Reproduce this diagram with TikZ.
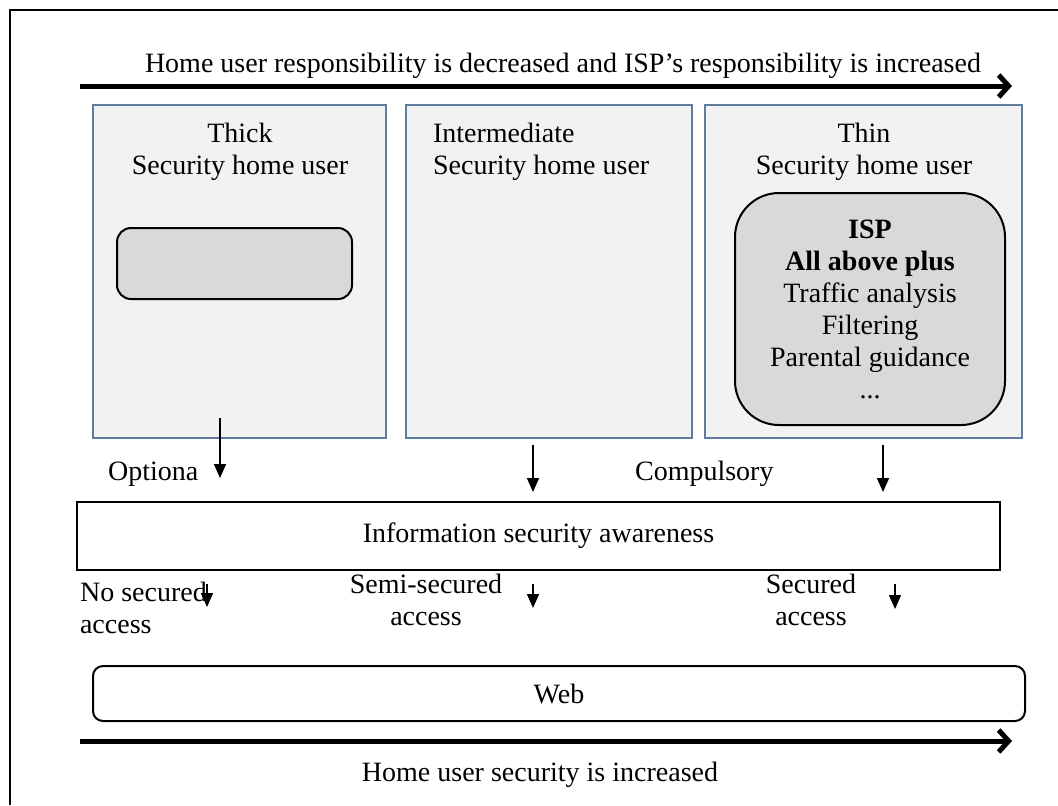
\documentclass[tikz,border=0pt]{standalone}
\usepackage{fontspec}
\setmainfont{Liberation Serif}
\usetikzlibrary{arrows.meta}

\definecolor{panelline}{RGB}{96,124,160}
\definecolor{panelfill}{RGB}{242,242,242}
\definecolor{boxfill}{RGB}{217,217,217}

\tikzset{
  panel/.style={draw=panelline, fill=panelfill, line width=0.6pt, inner sep=0pt},
  greybox/.style={draw, fill=boxfill, line width=1pt, align=center},
  bar/.style={draw, line width=1pt, fill=white, inner sep=0pt},
  bigarrow/.style={line width=2.5pt, -{Straight Barb[length=5pt,width=11pt]}},
  smallarrow/.style={line width=0.8pt, -{Triangle[length=7pt,width=6pt]}},
  lbl/.style={font=\fontsize{14}{16}\selectfont}
}

\begin{document}
\begin{tikzpicture}[x=0.5pt, y=-0.5pt, lbl]

        \useasboundingbox (0,0) rectangle (1058,805);

        % Outer frame (cut off at right and bottom)
        \draw[line width=1pt] (10,805) -- (10,10) -- (1058,10);

        % Top heading and arrow
        \node[anchor=base] (toptext) at (563,72)
          {Home user responsibility is decreased and ISP’s responsibility is increased};
        \coordinate (topstart) at (80,86);
        \coordinate (topend) at (1012,86);
        \draw[bigarrow] (topstart) -- (topend);

        % Three security panels
        \node[panel, minimum width=146.5pt, minimum height=166.5pt] (thick) at (239.5,271.5) {};
        \node[panel, minimum width=143pt, minimum height=166.5pt] (inter) at (549,271.5) {};
        \node[panel, minimum width=158.5pt, minimum height=166.5pt] (thin) at (863.5,271.5) {};

        \node[align=center] (thicktitle) at (240,152) {Thick\\Security home user};
        \node[align=left, anchor=west] (intertitle) at (426,152) {Intermediate\\Security home user};
        \node[align=center] (thintitle) at (864,152) {Thin\\Security home user};

        % Grey boxes inside the panels
        \node[greybox, rounded corners=7pt, minimum width=117.5pt, minimum height=35.5pt] (thickbox) at (234.5,263.5) {};
        \node[greybox, rounded corners=22pt, minimum width=135pt, minimum height=116pt] (ispbox) at (870,309)
          {\textbf{ISP}\\\textbf{All above plus}\\Traffic analysis\\Filtering\\Parental guidance\\...};

        % Arrows down to the awareness bar
        \coordinate (a1s) at (220,418);
        \coordinate (a1e) at (220,478);
        \coordinate (a2s) at (533,445);
        \coordinate (a2e) at (533,492);
        \coordinate (a3s) at (883,445);
        \coordinate (a3e) at (883,492);
        \draw[smallarrow] (a1s) -- (a1e);
        \draw[smallarrow] (a2s) -- (a2e);
        \draw[smallarrow] (a3s) -- (a3e);

        \node[anchor=base west] (optional) at (101,480) {Optiona};
        \node[anchor=base west] (compulsory) at (628,480) {Compulsory};

        % Awareness bar
        \node[bar, minimum width=461.5pt, minimum height=34pt] (aware) at (538.5,536)
          {Information security awareness};

        % Arrows down to the web
        \coordinate (a4s) at (207,584);
        \coordinate (a4e) at (207,607);
        \coordinate (a5s) at (533,584);
        \coordinate (a5e) at (533,608);
        \coordinate (a6s) at (895,584);
        \coordinate (a6e) at (895,609);
        \draw[smallarrow] (a4s) -- (a4e);
        \draw[smallarrow] (a5s) -- (a5e);
        \draw[smallarrow] (a6s) -- (a6e);

        \node[align=left, anchor=west] (noaccess) at (73,608) {No secured\\access};
        \node[align=center] (semiaccess) at (426,600) {Semi-secured\\access};
        \node[align=center] (secaccess) at (811,600) {Secured\\access};

        % Web bar
        \node[bar, rounded corners=5pt, minimum width=466pt, minimum height=27.5pt] (web) at (559,693.5) {Web};

        % Bottom arrow and caption
        \coordinate (botstart) at (80,741);
        \coordinate (botend) at (1012,741);
        \draw[bigarrow] (botstart) -- (botend);
        \node[anchor=base] (bottext) at (540,781) {Home user security is increased};

    \end{tikzpicture}
\end{document}
